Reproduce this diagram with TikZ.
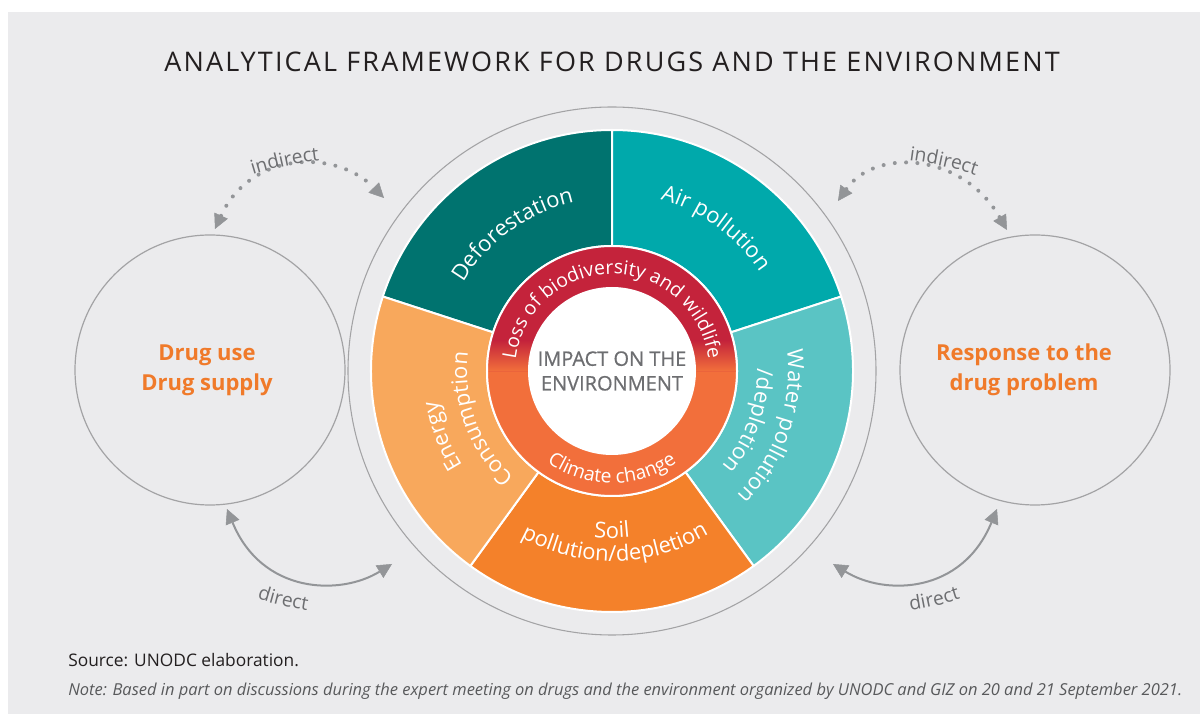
\documentclass[tikz,border=0pt]{standalone}
\usepackage{fontspec}
\setmainfont{Open Sans}
\newfontfamily\titlefont[LetterSpace=8]{Open Sans}
\newfontfamily\lblfont[LetterSpace=6]{Open Sans}
\newfontfamily\impactfont[FakeBold=0.6]{Open Sans}
\usetikzlibrary{arrows.meta,decorations.text}
\definecolor{bg}{HTML}{EBEBED}
\definecolor{cdef}{HTML}{00736F}
\definecolor{cair}{HTML}{00A9AB}
\definecolor{cwat}{HTML}{5AC4C4}
\definecolor{csoil}{HTML}{F4812A}
\definecolor{cen}{HTML}{F8A85C}
\definecolor{cred}{HTML}{C4233B}
\definecolor{cring}{HTML}{F26F3B}
\definecolor{cline}{HTML}{A3A3A5}
\definecolor{carrow}{HTML}{939598}
\definecolor{clbl}{HTML}{6D6E71}
\definecolor{corg}{HTML}{F07A2A}
\definecolor{ctitle}{HTML}{231F20}
\definecolor{cnote}{HTML}{58595B}
\newcommand\segfont{\fontsize{16.5pt}{18pt}\selectfont}
\newcommand\ringfont{\fontsize{14.5pt}{16pt}\selectfont}
\newcommand\arrfont{\lblfont\fontsize{14.5pt}{16pt}\selectfont}
\tikzset{
  segtext/.style={decorate, decoration={text along path, text align=center, text color=white, text={|\segfont|#1}}},
  ringtext/.style={decorate, decoration={text along path, text align=center, text color=white, text={|\ringfont|#1}}},
  arrtext/.style={decorate, decoration={text along path, text align=center, text color=clbl, text={|\arrfont|#1}}},
  dotarrow/.style={draw=carrow, line width=3pt, line cap=round, dash pattern=on 0pt off 8.5pt,
     {Triangle[length=11pt,width=11pt,line width=0.4pt]}-{Triangle[length=11pt,width=11pt,line width=0.4pt]}},
  solidarrow/.style={draw=carrow, line width=1.5pt,
     {Triangle[length=11pt,width=11pt,line width=0.4pt]}-{Triangle[length=11pt,width=11pt,line width=0.4pt]}},
  bigcircle/.style={circle, draw=cline, line width=0.9pt, minimum size=202.5pt, inner sep=0pt},
  drugtext/.style={align=center, text=corg, font=\bfseries\fontsize{16.5pt}{22.5pt}\selectfont},
  segment/.style={draw=white, line width=1.5pt, line join=round}
}
\begin{document}
\begin{tikzpicture}[x=0.75pt,y=0.75pt]
\useasboundingbox (0,0) rectangle (1200,714);
\fill[white] (0,0) rectangle (1200,714);
\fill[bg] (8,0) rectangle (1200,702);

% title
\node[font=\titlefont\fontsize{20.25pt}{24pt}\selectfont, text=ctitle, anchor=base, inner sep=0pt] (title) at (612,642) {ANALYTICAL FRAMEWORK FOR DRUGS AND THE ENVIRONMENT};

% side circles
\node[bigcircle] (usec) at (210,344) {};
\node[drugtext] (uset) at (207,344) {Drug use\\Drug supply};
\node[bigcircle] (respc) at (1035,344) {};
\node[drugtext] (respt) at (1024,344) {Response to the\\drug problem};

% outer thin circle of the wheel
\node[circle, draw=cline, line width=0.8pt, minimum size=396pt, inner sep=0pt] (wheel) at (612,343) {};

\begin{scope}[shift={(612,343)}]
  \foreach \a/\b/\col in {90/162/cdef,18/90/cair,-54/18/cwat,234/306/csoil,162/234/cen}
    \filldraw[segment, fill=\col] (\a:125) -- (\a:241) arc[start angle=\a, end angle=\b, radius=241] -- (\b:125) arc[start angle=\b, end angle=\a, radius=125] -- cycle;
  % ring
  \fill[cring] (0,0) circle[radius=125];
  \begin{scope}
    \clip (0,0) circle[radius=125];
    \fill[cred] (-130,30) rectangle (130,130);
    \shade[top color=cred, bottom color=cring] (-130,0) rectangle (130,30.5);
  \end{scope}
  \draw[cring!85!cred, line width=0.5pt] (-125,0) -- (-84,0) (84,0) -- (125,0);
  \draw[white, line width=1.5pt] (0,0) circle[radius=125];
  \fill[white] (0,0) circle[radius=84];
  \node[align=center, text=clbl, font=\impactfont\fontsize{15pt}{18.5pt}\selectfont] (impact) at (0,0) {IMPACT ON THE\\ENVIRONMENT};
  % ring texts
  \path[ringtext=Loss of biodiversity and wildlife] (172:97) arc[start angle=172, end angle=8, radius=97];
  \path[ringtext=Climate change] (225:112) arc[start angle=225, end angle=315, radius=112];
  % segment texts
  \path[segtext=Deforestation] (176:173) arc[start angle=176, end angle=76, radius=173];
  \path[segtext=Air pollution] (104:178) arc[start angle=104, end angle=4, radius=178];
  \path[segtext=Energy] (252:177) arc[start angle=252, end angle=150, radius=177];
  \path[segtext=Consumption] (251:145) arc[start angle=251, end angle=149, radius=145];
  \path[segtext=Water pollution] (31:176) arc[start angle=31, end angle=-69, radius=176];
  \path[segtext=/depletion] (30:145) arc[start angle=30, end angle=-70, radius=145];
  \path[segtext=Soil] (220:167) arc[start angle=220, end angle=320, radius=167];
  \path[segtext=pollution/depletion] (221:190) arc[start angle=221, end angle=321, radius=190];
\end{scope}

% arrows
\coordinate (iLa) at (215,485); \coordinate (iLb) at (384,516);
\coordinate (iRa) at (838,513); \coordinate (iRb) at (1007,484);
\coordinate (dLa) at (227,205); \coordinate (dLb) at (392,150);
\coordinate (dRa) at (833,150); \coordinate (dRb) at (997,205);
\draw[dotarrow] (iLa) .. controls (250,562) and (335,566) .. (iLb);
\draw[dotarrow] (iRa) .. controls (875,566) and (962,562) .. (iRb);
\draw[solidarrow] (dLa) .. controls (262,120) and (340,118) .. (dLb);
\draw[solidarrow] (dRa) .. controls (885,118) and (962,120) .. (dRb);
\path[arrtext=indirect] (219,528) to[bend left=8] (355,557);
\path[arrtext=indirect] (877,557) to[bend left=8] (1006,528);
\path[arrtext=direct] (226,126.5) to[bend right=8] (340,99.5);
\path[arrtext=direct] (876,99.5) to[bend right=8] (993,126.5);

% source and note
\node[anchor=base west, inner sep=0pt, text=ctitle, font=\fontsize{13pt}{15pt}\selectfont] (source) at (68,47) {Source: UNODC elaboration.};
\node[anchor=base west, inner sep=0pt, text=cnote, font=\itshape\fontsize{12.35pt}{14pt}\selectfont] (note) at (68,18) {Note: Based in part on discussions during the expert meeting on drugs and the environment organized by UNODC and GIZ on 20 and 21 September 2021.};
\end{tikzpicture}
\end{document}
